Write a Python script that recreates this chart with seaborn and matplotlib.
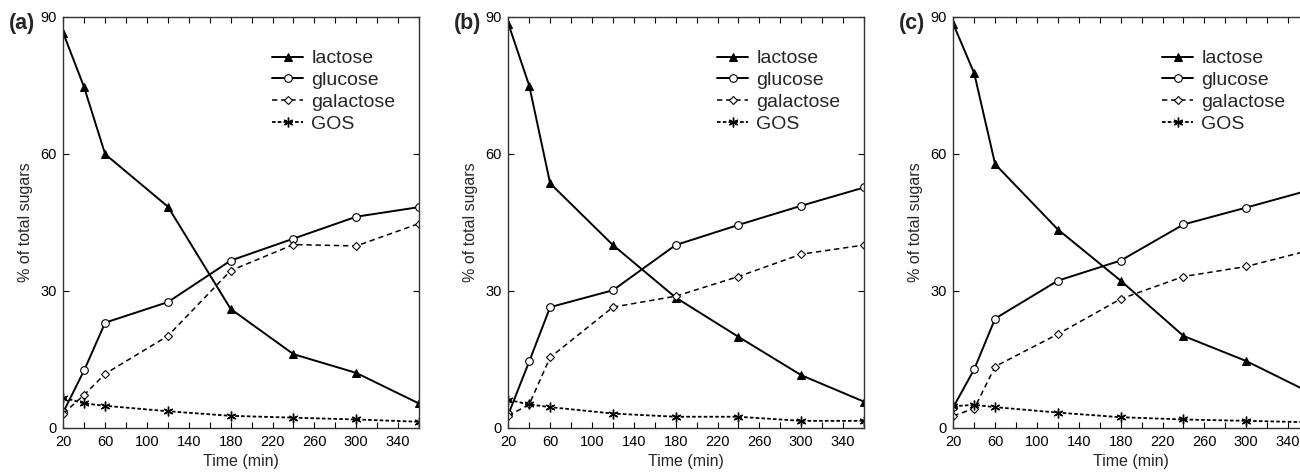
import numpy as np
import pandas as pd
import matplotlib
matplotlib.use("Agg")
import matplotlib.pyplot as plt
import seaborn as sns
from matplotlib.ticker import MultipleLocator, FixedLocator

time_min = [20, 40, 60, 120, 180, 240, 300, 360]
sugars = ["lactose", "glucose", "galactose", "GOS"]
panel_labels = ["(a)", "(b)", "(c)"]

a_lactose = [86.4, 74.5, 59.9, 48.4, 26.0, 16.1, 12.0, 5.3]
a_glucose = [3.4, 12.6, 23.0, 27.5, 36.6, 41.4, 46.2, 48.3]
a_galactose = [3.1, 7.2, 11.8, 20.1, 34.4, 40.1, 39.8, 44.7]
a_gos = [6.6, 5.3, 4.8, 3.6, 2.6, 2.2, 1.8, 1.3]

b_lactose = [88.5, 74.9, 53.5, 40.0, 28.5, 19.9, 11.5, 5.7]
b_glucose = [2.9, 14.5, 26.4, 30.1, 40.0, 44.4, 48.6, 52.6]
b_galactose = [2.6, 5.1, 15.4, 26.4, 28.8, 33.1, 38.0, 40.0]
b_gos = [6.1, 5.1, 4.5, 3.1, 2.4, 2.4, 1.5, 1.5]

c_lactose = [88.4, 77.6, 57.7, 43.4, 32.2, 20.1, 14.6, 7.8]
c_glucose = [4.5, 12.8, 23.9, 32.2, 36.6, 44.5, 48.2, 52.0]
c_galactose = [2.6, 4.2, 13.4, 20.5, 28.2, 33.1, 35.3, 38.8]
c_gos = [4.7, 5.0, 4.5, 3.3, 2.3, 1.8, 1.5, 1.2]

panels = [
    [a_lactose, a_glucose, a_galactose, a_gos],
    [b_lactose, b_glucose, b_galactose, b_gos],
    [c_lactose, c_glucose, c_galactose, c_gos],
]

x_major = [20, 60, 100, 140, 180, 220, 260, 300, 340]
y_major = [0, 30, 60, 90]

sns.set_style("ticks")
plt.rcParams["font.family"] = ["Liberation Sans", "DejaVu Sans"]

styles = {
    "lactose": dict(marker="^", markersize=5.5, markerfacecolor="black",
                    markeredgecolor="black", linestyle="-", linewidth=1.4),
    "glucose": dict(marker="o", markersize=5.5, markerfacecolor="white",
                    markeredgecolor="black", markeredgewidth=0.8,
                    linestyle="-", linewidth=1.4),
    "galactose": dict(marker="D", markersize=3.6, markerfacecolor="white",
                      markeredgecolor="black", markeredgewidth=0.8,
                      linestyle=(0, (3.5, 2.5)), linewidth=1.1),
    "GOS": dict(marker=(6, 2, 0), markersize=7, markeredgecolor="black",
                markeredgewidth=1.0, linestyle=(0, (2.0, 1.2)), linewidth=1.3),
}

fig = plt.figure(figsize=(13.0, 4.73), dpi=100)
W, H = 1300.0, 473.0
lefts = [63.3, 508.3, 953.3]
ax_w = 355.7
ax_top, ax_bot = 16.7, 427.7

for i, series in enumerate(panels):
    ax = fig.add_axes([lefts[i] / W, (H - ax_bot) / H, ax_w / W, (ax_bot - ax_top) / H])
    for name, vals in zip(sugars, series):
        df = pd.DataFrame({"Time (min)": time_min, "value": vals})
        sns.lineplot(data=df, x="Time (min)", y="value", ax=ax, color="black",
                     label=name, **styles[name])
    ax.set_xlim(20, 360)
    ax.set_ylim(0, 90)
    ax.xaxis.set_major_locator(FixedLocator(x_major))
    ax.xaxis.set_minor_locator(MultipleLocator(20))
    ax.yaxis.set_major_locator(FixedLocator(y_major))
    ax.tick_params(which="both", direction="in", top=True, right=True,
                   labelsize=10.5, colors="black", pad=5)
    ax.tick_params(which="major", length=4, width=0.8)
    ax.tick_params(which="minor", length=4, width=0.8)
    for sp in ax.spines.values():
        sp.set_color("#333333")
        sp.set_linewidth(1.0)
    ax.set_xlabel("Time (min)", fontsize=11.5, labelpad=4)
    ax.set_ylabel("% of total sugars", fontsize=11.5, labelpad=5)
    leg = ax.legend(loc="upper left", bbox_to_anchor=(209 / ax_w, 1 - 33 / 411.0),
                    frameon=False, fontsize=14, handlelength=1.6,
                    handletextpad=0.4, labelspacing=0.22, borderaxespad=0,
                    borderpad=0)
    fig.text((lefts[i] - 54) / W, 1 - 24 / H, panel_labels[i], fontsize=15.5,
             fontweight="bold", ha="left", va="center")

fig.savefig("out.png", dpi=100)
